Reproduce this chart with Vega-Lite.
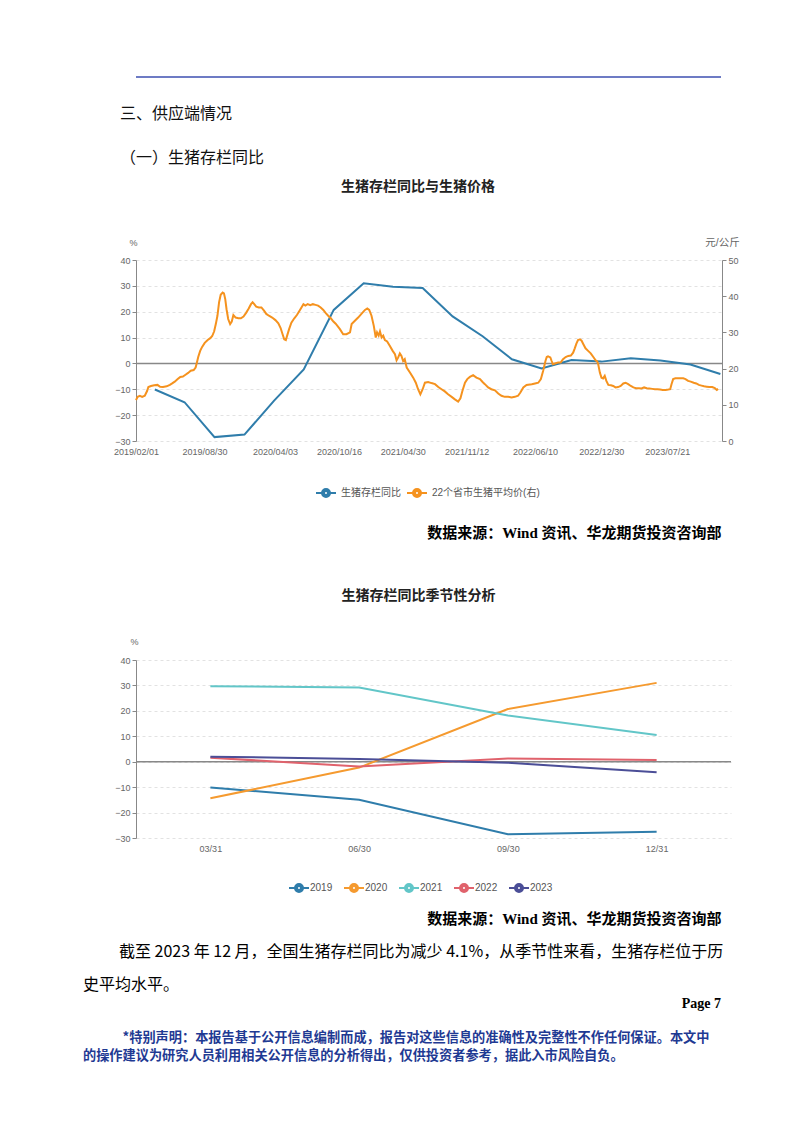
{
  "$schema": "https://vega.github.io/schema/vega-lite/v6.json",
  "background": "white",
  "padding": {"left": 83, "top": 76, "right": 0, "bottom": 0},
  "bounds": "flush",
  "spacing": 0,
  "resolve": {"scale": {"color": "independent"}, "legend": {"color": "independent"}},
  "config": {
    "view": {"stroke": null},
    "font": "Noto Sans CJK SC",
    "axis": {
      "labelFont": "Liberation Sans",
      "labelFontSize": 9,
      "labelColor": "#666666",
      "labelOverlap": false,
      "labelFlush": false,
      "domainColor": "#888888",
      "tickColor": "#888888",
      "gridColor": "#e2e2e2",
      "gridDash": [3, 3],
      "titleFont": "Liberation Sans, Noto Sans CJK SC",
      "titleFontWeight": "normal",
      "titleColor": "#666666",
      "titleFontSize": 9
    },
    "legend": {
      "labelFont": "Liberation Sans, Noto Sans CJK SC",
      "labelFontSize": 10,
      "labelColor": "#555555"
    }
  },
  "datasets": {
    "yoy": [
      {"d": "2019-03-31", "v": -10.1}, {"d": "2019-06-30", "v": -15.0}, {"d": "2019-09-30", "v": -28.5}, {"d": "2019-12-31", "v": -27.5},
      {"d": "2020-03-31", "v": -14.4}, {"d": "2020-06-30", "v": -2.3}, {"d": "2020-09-30", "v": 20.7}, {"d": "2020-12-31", "v": 31.0},
      {"d": "2021-03-31", "v": 29.7}, {"d": "2021-06-30", "v": 29.2}, {"d": "2021-09-30", "v": 18.2}, {"d": "2021-12-31", "v": 10.5},
      {"d": "2022-03-31", "v": 1.6}, {"d": "2022-06-30", "v": -1.9}, {"d": "2022-09-30", "v": 1.3}, {"d": "2022-12-31", "v": 0.7},
      {"d": "2023-03-31", "v": 2.0}, {"d": "2023-06-30", "v": 1.1}, {"d": "2023-09-30", "v": -0.4}, {"d": "2023-12-31", "v": -4.1}
    ],
    "price": [
      {"d": "2019-02-01", "p": 11.3}, {"d": "2019-02-06", "p": 12.2}, {"d": "2019-02-13", "p": 12.5}, {"d": "2019-02-20", "p": 12.2},
      {"d": "2019-02-28", "p": 12.5}, {"d": "2019-03-07", "p": 13.8}, {"d": "2019-03-11", "p": 14.9}, {"d": "2019-03-19", "p": 15.2},
      {"d": "2019-03-29", "p": 15.4}, {"d": "2019-04-08", "p": 15.5}, {"d": "2019-04-16", "p": 15.0}, {"d": "2019-04-25", "p": 14.9},
      {"d": "2019-05-06", "p": 15.1}, {"d": "2019-05-16", "p": 15.5}, {"d": "2019-05-23", "p": 15.9}, {"d": "2019-05-31", "p": 16.4},
      {"d": "2019-06-09", "p": 17.1}, {"d": "2019-06-17", "p": 17.7}, {"d": "2019-06-25", "p": 17.8}, {"d": "2019-07-03", "p": 18.3},
      {"d": "2019-07-11", "p": 18.8}, {"d": "2019-07-19", "p": 19.4}, {"d": "2019-07-28", "p": 19.6}, {"d": "2019-08-03", "p": 20.3},
      {"d": "2019-08-07", "p": 21.7}, {"d": "2019-08-11", "p": 23.2}, {"d": "2019-08-17", "p": 24.9}, {"d": "2019-08-23", "p": 26.0},
      {"d": "2019-08-31", "p": 27.1}, {"d": "2019-09-09", "p": 27.9}, {"d": "2019-09-17", "p": 28.4}, {"d": "2019-09-23", "p": 29.0},
      {"d": "2019-09-29", "p": 30.3}, {"d": "2019-10-04", "p": 32.3}, {"d": "2019-10-09", "p": 34.6}, {"d": "2019-10-14", "p": 38.3},
      {"d": "2019-10-19", "p": 40.4}, {"d": "2019-10-25", "p": 41.0}, {"d": "2019-10-29", "p": 40.8}, {"d": "2019-11-02", "p": 39.2},
      {"d": "2019-11-06", "p": 36.4}, {"d": "2019-11-11", "p": 33.7}, {"d": "2019-11-17", "p": 32.3}, {"d": "2019-11-22", "p": 33.0},
      {"d": "2019-11-27", "p": 34.8}, {"d": "2019-12-04", "p": 34.1}, {"d": "2019-12-12", "p": 33.9}, {"d": "2019-12-20", "p": 33.9},
      {"d": "2019-12-28", "p": 34.4}, {"d": "2020-01-05", "p": 35.4}, {"d": "2020-01-13", "p": 36.6}, {"d": "2020-01-20", "p": 37.8},
      {"d": "2020-01-25", "p": 38.3}, {"d": "2020-01-30", "p": 37.8}, {"d": "2020-02-05", "p": 37.1}, {"d": "2020-02-13", "p": 36.9},
      {"d": "2020-02-21", "p": 36.9}, {"d": "2020-02-29", "p": 36.0}, {"d": "2020-03-07", "p": 35.1}, {"d": "2020-03-15", "p": 34.6},
      {"d": "2020-03-25", "p": 34.1}, {"d": "2020-04-04", "p": 33.4}, {"d": "2020-04-13", "p": 32.5}, {"d": "2020-04-20", "p": 31.2},
      {"d": "2020-04-26", "p": 29.5}, {"d": "2020-05-01", "p": 28.1}, {"d": "2020-05-06", "p": 27.9}, {"d": "2020-05-10", "p": 29.1},
      {"d": "2020-05-16", "p": 30.9}, {"d": "2020-05-23", "p": 32.7}, {"d": "2020-06-01", "p": 33.9}, {"d": "2020-06-09", "p": 34.8},
      {"d": "2020-06-17", "p": 36.0}, {"d": "2020-06-23", "p": 36.9}, {"d": "2020-06-29", "p": 37.8}, {"d": "2020-07-05", "p": 37.4},
      {"d": "2020-07-12", "p": 37.8}, {"d": "2020-07-20", "p": 37.5}, {"d": "2020-07-28", "p": 37.8}, {"d": "2020-08-05", "p": 37.6},
      {"d": "2020-08-13", "p": 37.4}, {"d": "2020-08-21", "p": 36.9}, {"d": "2020-08-29", "p": 36.2}, {"d": "2020-09-05", "p": 35.4},
      {"d": "2020-09-13", "p": 34.6}, {"d": "2020-09-21", "p": 33.9}, {"d": "2020-09-29", "p": 33.0}, {"d": "2020-10-06", "p": 32.4},
      {"d": "2020-10-19", "p": 30.9}, {"d": "2020-10-29", "p": 29.5}, {"d": "2020-11-08", "p": 29.5}, {"d": "2020-11-19", "p": 30.0},
      {"d": "2020-11-24", "p": 32.3}, {"d": "2020-12-04", "p": 33.2}, {"d": "2020-12-14", "p": 34.1}, {"d": "2020-12-24", "p": 35.1},
      {"d": "2021-01-04", "p": 36.2}, {"d": "2021-01-11", "p": 36.6}, {"d": "2021-01-17", "p": 36.2}, {"d": "2021-01-24", "p": 34.6},
      {"d": "2021-01-31", "p": 31.8}, {"d": "2021-02-06", "p": 28.6}, {"d": "2021-02-10", "p": 30.0}, {"d": "2021-02-15", "p": 29.1},
      {"d": "2021-02-19", "p": 30.3}, {"d": "2021-02-24", "p": 28.6}, {"d": "2021-03-01", "p": 29.1}, {"d": "2021-03-06", "p": 27.9},
      {"d": "2021-03-13", "p": 27.5}, {"d": "2021-03-21", "p": 26.3}, {"d": "2021-03-30", "p": 24.9}, {"d": "2021-04-06", "p": 24.0},
      {"d": "2021-04-11", "p": 22.3}, {"d": "2021-04-16", "p": 23.1}, {"d": "2021-04-21", "p": 24.2}, {"d": "2021-04-26", "p": 23.5},
      {"d": "2021-05-01", "p": 22.1}, {"d": "2021-05-06", "p": 22.6}, {"d": "2021-05-12", "p": 20.3}, {"d": "2021-05-22", "p": 18.9},
      {"d": "2021-06-01", "p": 17.5}, {"d": "2021-06-09", "p": 16.1}, {"d": "2021-06-16", "p": 14.3}, {"d": "2021-06-23", "p": 12.9},
      {"d": "2021-06-30", "p": 14.3}, {"d": "2021-07-07", "p": 16.1}, {"d": "2021-07-17", "p": 16.3}, {"d": "2021-07-27", "p": 16.0},
      {"d": "2021-08-07", "p": 15.7}, {"d": "2021-08-17", "p": 14.9}, {"d": "2021-08-27", "p": 14.3}, {"d": "2021-09-06", "p": 13.7},
      {"d": "2021-09-16", "p": 12.9}, {"d": "2021-09-27", "p": 12.2}, {"d": "2021-10-07", "p": 11.5}, {"d": "2021-10-17", "p": 10.9},
      {"d": "2021-10-24", "p": 11.8}, {"d": "2021-10-30", "p": 13.8}, {"d": "2021-11-07", "p": 16.1}, {"d": "2021-11-14", "p": 17.1},
      {"d": "2021-11-22", "p": 17.7}, {"d": "2021-12-02", "p": 18.2}, {"d": "2021-12-12", "p": 17.5}, {"d": "2021-12-23", "p": 17.1},
      {"d": "2021-12-31", "p": 16.3}, {"d": "2022-01-07", "p": 15.7}, {"d": "2022-01-17", "p": 14.8}, {"d": "2022-01-27", "p": 14.3},
      {"d": "2022-02-07", "p": 14.0}, {"d": "2022-02-17", "p": 13.1}, {"d": "2022-02-27", "p": 12.5}, {"d": "2022-03-09", "p": 12.2},
      {"d": "2022-03-20", "p": 12.2}, {"d": "2022-03-30", "p": 12.0}, {"d": "2022-04-09", "p": 12.2}, {"d": "2022-04-19", "p": 12.5},
      {"d": "2022-04-26", "p": 13.4}, {"d": "2022-05-05", "p": 14.8}, {"d": "2022-05-15", "p": 15.5}, {"d": "2022-05-31", "p": 15.7},
      {"d": "2022-06-10", "p": 15.9}, {"d": "2022-06-20", "p": 16.1}, {"d": "2022-06-28", "p": 17.1}, {"d": "2022-07-05", "p": 19.4},
      {"d": "2022-07-12", "p": 22.1}, {"d": "2022-07-16", "p": 23.2}, {"d": "2022-07-20", "p": 23.4}, {"d": "2022-07-27", "p": 23.1},
      {"d": "2022-07-31", "p": 22.1}, {"d": "2022-08-04", "p": 21.2}, {"d": "2022-08-10", "p": 21.4}, {"d": "2022-08-20", "p": 21.7},
      {"d": "2022-08-28", "p": 21.7}, {"d": "2022-09-04", "p": 22.6}, {"d": "2022-09-12", "p": 23.2}, {"d": "2022-09-20", "p": 23.5},
      {"d": "2022-09-28", "p": 23.6}, {"d": "2022-10-05", "p": 24.4}, {"d": "2022-10-10", "p": 25.6}, {"d": "2022-10-15", "p": 26.9},
      {"d": "2022-10-20", "p": 27.9}, {"d": "2022-10-26", "p": 28.1}, {"d": "2022-10-31", "p": 27.7}, {"d": "2022-11-05", "p": 26.8},
      {"d": "2022-11-12", "p": 25.6}, {"d": "2022-11-20", "p": 24.9}, {"d": "2022-11-28", "p": 24.2}, {"d": "2022-12-06", "p": 23.2},
      {"d": "2022-12-13", "p": 22.3}, {"d": "2022-12-18", "p": 22.0}, {"d": "2022-12-21", "p": 21.2}, {"d": "2022-12-26", "p": 18.9},
      {"d": "2022-12-31", "p": 17.5}, {"d": "2023-01-05", "p": 17.3}, {"d": "2023-01-10", "p": 18.0}, {"d": "2023-01-15", "p": 16.6},
      {"d": "2023-01-21", "p": 15.5}, {"d": "2023-01-29", "p": 15.4}, {"d": "2023-02-05", "p": 15.2}, {"d": "2023-02-12", "p": 14.8},
      {"d": "2023-02-20", "p": 14.9}, {"d": "2023-02-28", "p": 15.2}, {"d": "2023-03-08", "p": 15.9}, {"d": "2023-03-15", "p": 16.1},
      {"d": "2023-03-23", "p": 15.7}, {"d": "2023-03-31", "p": 15.2}, {"d": "2023-04-08", "p": 14.8}, {"d": "2023-04-16", "p": 14.6},
      {"d": "2023-04-25", "p": 14.6}, {"d": "2023-05-03", "p": 14.5}, {"d": "2023-05-11", "p": 14.8}, {"d": "2023-05-19", "p": 14.6},
      {"d": "2023-05-27", "p": 14.5}, {"d": "2023-06-05", "p": 14.4}, {"d": "2023-06-13", "p": 14.3}, {"d": "2023-06-21", "p": 14.3},
      {"d": "2023-06-29", "p": 14.2}, {"d": "2023-07-07", "p": 14.1}, {"d": "2023-07-16", "p": 14.1}, {"d": "2023-07-24", "p": 14.2},
      {"d": "2023-07-30", "p": 14.3}, {"d": "2023-08-03", "p": 15.7}, {"d": "2023-08-08", "p": 17.1}, {"d": "2023-08-15", "p": 17.3},
      {"d": "2023-08-23", "p": 17.3}, {"d": "2023-09-01", "p": 17.3}, {"d": "2023-09-08", "p": 17.3}, {"d": "2023-09-15", "p": 17.1},
      {"d": "2023-09-23", "p": 16.6}, {"d": "2023-10-01", "p": 16.4}, {"d": "2023-10-10", "p": 16.1}, {"d": "2023-10-18", "p": 15.9},
      {"d": "2023-10-26", "p": 15.5}, {"d": "2023-11-03", "p": 15.3}, {"d": "2023-11-11", "p": 15.1}, {"d": "2023-11-19", "p": 15.0},
      {"d": "2023-11-27", "p": 14.9}, {"d": "2023-12-06", "p": 14.9}, {"d": "2023-12-14", "p": 14.6}, {"d": "2023-12-20", "p": 14.1},
      {"d": "2023-12-24", "p": 14.4}
    ],
    "season": [
      {"year": "2019", "q": "03/31", "v": -10.1}, {"year": "2019", "q": "06/30", "v": -15.0}, {"year": "2019", "q": "09/30", "v": -28.5}, {"year": "2019", "q": "12/31", "v": -27.5},
      {"year": "2020", "q": "03/31", "v": -14.4}, {"year": "2020", "q": "06/30", "v": -2.3}, {"year": "2020", "q": "09/30", "v": 20.7}, {"year": "2020", "q": "12/31", "v": 31.0},
      {"year": "2021", "q": "03/31", "v": 29.7}, {"year": "2021", "q": "06/30", "v": 29.2}, {"year": "2021", "q": "09/30", "v": 18.2}, {"year": "2021", "q": "12/31", "v": 10.5},
      {"year": "2022", "q": "03/31", "v": 1.6}, {"year": "2022", "q": "06/30", "v": -1.9}, {"year": "2022", "q": "09/30", "v": 1.3}, {"year": "2022", "q": "12/31", "v": 0.7},
      {"year": "2023", "q": "03/31", "v": 2.0}, {"year": "2023", "q": "06/30", "v": 1.1}, {"year": "2023", "q": "09/30", "v": -0.4}, {"year": "2023", "q": "12/31", "v": -4.1}
    ]
  },
  "vconcat": [
    {
      "width": 585,
      "height": 183,
      "data": {"values": [{}]},
      "mark": {"type": "rule", "color": "#3d4fb0", "strokeWidth": 1.5, "x2Offset": -53},
      "encoding": {"y": {"value": 0}},
      "title": {
        "text": ["三、供应端情况", "（一）生猪存栏同比"],
        "orient": "top",
        "anchor": "start",
        "frame": "group",
        "dx": -16,
        "offset": -90,
        "font": "Noto Sans CJK SC",
        "fontSize": 16,
        "fontWeight": "normal",
        "color": "#111111",
        "lineHeight": 44
      }
    },
    {
      "width": 586,
      "height": 181,
      "title": {
        "text": "生猪存栏同比与生猪价格",
        "orient": "top",
        "anchor": "middle",
        "frame": "group",
        "dx": -11,
        "offset": 43,
        "font": "Noto Sans CJK SC",
        "fontSize": 14,
        "fontWeight": "bold",
        "color": "#222222"
      },
      "layer": [
        {
          "layer": [
            {
              "data": {"values": [{}]},
              "mark": {"type": "rule", "color": "#888888", "strokeWidth": 1.5},
              "encoding": {"y": {"datum": 0, "type": "quantitative"}}
            },
            {
              "data": {"name": "yoy"},
              "mark": {"type": "line", "strokeWidth": 2},
              "encoding": {
                "x": {
                  "field": "d",
                  "type": "temporal",
                  "scale": {"domain": [{"year": 2019, "month": 2, "date": 1}, {"year": 2024, "month": 1, "date": 5}], "nice": false},
                  "axis": {
                    "values": [
                      {"year": 2019, "month": 2, "date": 1}, {"year": 2019, "month": 8, "date": 30},
                      {"year": 2020, "month": 4, "date": 3}, {"year": 2020, "month": 10, "date": 16},
                      {"year": 2021, "month": 4, "date": 30}, {"year": 2021, "month": 11, "date": 12},
                      {"year": 2022, "month": 6, "date": 10}, {"year": 2022, "month": 12, "date": 30},
                      {"year": 2023, "month": 7, "date": 21}
                    ],
                    "tickCount": 20,
                    "format": "%Y/%m/%d",
                    "labelAngle": 0,
                    "domain": false,
                    "ticks": false,
                    "grid": false,
                    "labelPadding": 6,
                    "title": "数据来源：Wind 资讯、华龙期货投资咨询部",
                    "titleX": 585,
                    "titleY": 91,
                    "titleAlign": "right",
                    "titleAnchor": "end",
                    "titleBaseline": "middle",
                    "titleFont": "Liberation Serif, Noto Sans CJK SC",
                    "titleFontSize": 15,
                    "titleFontWeight": "bold",
                    "titleColor": "#000000"
                  }
                },
                "y": {
                  "field": "v",
                  "type": "quantitative",
                  "scale": {"domain": [-30, 40], "nice": false, "zero": false},
                  "axis": {
                    "values": [-30, -20, -10, 0, 10, 20, 30, 40],
                    "tickCount": 20,
                    "grid": true,
                    "tickSize": 4,
                    "labelPadding": 2,
                    "title": "%",
                    "titleAngle": 0,
                    "titleX": -3,
                    "titleY": -18,
                    "titleAlign": "center",
                    "titleBaseline": "middle"
                  }
                },
                "color": {
                  "datum": "生猪存栏同比",
                  "scale": {"domain": ["生猪存栏同比", "22个省市生猪平均价(右)"], "range": ["#2f7dab", "#f5921e"]},
                  "legend": {
                    "orient": "none",
                    "legendX": 184,
                    "legendY": 227,
                    "direction": "horizontal",
                    "title": null,
                    "symbolType": "M-2,0H-0.8M0.8,0H2M-0.8,0A0.8,0.8,0,1,0,0.8,0A0.8,0.8,0,1,0,-0.8,0M-0.4,0A0.4,0.4,0,1,0,0.4,0A0.4,0.4,0,1,0,-0.4,0",
                    "symbolSize": 100,
                    "symbolStrokeWidth": 2,
                    "labelOffset": 9,
                    "columnPadding": 2,
                    "padding": 0
                  }
                }
              }
            }
          ]
        },
        {
          "data": {"name": "price"},
          "mark": {"type": "line", "strokeWidth": 2},
          "encoding": {
            "x": {"field": "d", "type": "temporal"},
            "y": {
              "field": "p",
              "type": "quantitative",
              "scale": {"domain": [0, 50], "nice": false},
              "axis": {
                "orient": "right",
                "values": [0, 10, 20, 30, 40, 50],
                "tickCount": 20,
                "grid": false,
                "tickSize": 4,
                "labelPadding": 2,
                "title": "元/公斤",
                "titleFontSize": 10.5,
                "titleAngle": 0,
                "titleX": 0,
                "titleY": -18,
                "titleAlign": "center",
                "titleBaseline": "middle"
              }
            },
            "color": {"datum": "22个省市生猪平均价(右)"}
          }
        }
      ],
      "resolve": {"scale": {"y": "independent"}}
    },
    {
      "width": 585,
      "height": 219,
      "data": {"values": []},
      "mark": "point"
    },
    {
      "width": 595,
      "height": 178,
      "title": {
        "text": "生猪存栏同比季节性分析",
        "orient": "top",
        "anchor": "middle",
        "frame": "group",
        "dx": -15,
        "offset": 34,
        "font": "Noto Sans CJK SC",
        "fontSize": 14,
        "fontWeight": "bold",
        "color": "#222222"
      },
      "layer": [
        {
          "data": {"values": [{}]},
          "mark": {"type": "rule", "color": "#888888", "strokeWidth": 1.5},
          "encoding": {"y": {"datum": 0, "type": "quantitative"}}
        },
        {
          "data": {"name": "season"},
          "mark": {"type": "line", "strokeWidth": 2},
          "encoding": {
            "x": {
              "field": "q",
              "type": "ordinal",
              "sort": ["03/31", "06/30", "09/30", "12/31"],
              "scale": {"type": "point", "padding": 0.5},
              "axis": {
                "labelAngle": 0,
                "domain": false,
                "ticks": false,
                "grid": false,
                "labelPadding": 6,
                "title": "数据来源：Wind 资讯、华龙期货投资咨询部",
                "titleX": 585,
                "titleY": 80,
                "titleAlign": "right",
                "titleAnchor": "end",
                "titleBaseline": "middle",
                "titleFont": "Liberation Serif, Noto Sans CJK SC",
                "titleFontSize": 15,
                "titleFontWeight": "bold",
                "titleColor": "#000000"
              }
            },
            "y": {
              "field": "v",
              "type": "quantitative",
              "scale": {"domain": [-30, 40], "nice": false, "zero": false},
              "axis": {
                "values": [-30, -20, -10, 0, 10, 20, 30, 40],
                "tickCount": 20,
                "grid": true,
                "tickSize": 4,
                "labelPadding": 2,
                "title": "%",
                "titleAngle": 0,
                "titleX": -2,
                "titleY": -19,
                "titleAlign": "center",
                "titleBaseline": "middle"
              }
            },
            "color": {
              "field": "year",
              "type": "nominal",
              "scale": {"domain": ["2019", "2020", "2021", "2022", "2023"], "range": ["#2f7dab", "#f59a2f", "#62c6c8", "#e0626c", "#4b4e97"]},
              "legend": {
                "orient": "none",
                "legendX": 157,
                "legendY": 222,
                "direction": "horizontal",
                "title": null,
                "symbolType": "M-2,0H-0.8M0.8,0H2M-0.8,0A0.8,0.8,0,1,0,0.8,0A0.8,0.8,0,1,0,-0.8,0M-0.4,0A0.4,0.4,0,1,0,0.4,0A0.4,0.4,0,1,0,-0.4,0",
                "symbolSize": 100,
                "symbolStrokeWidth": 2,
                "labelOffset": 5,
                "columnPadding": 7,
                "padding": 0
              }
            }
          }
        }
      ]
    },
    {
      "width": 585,
      "height": 20,
      "data": {"values": []},
      "mark": "point",
      "title": {
        "text": ["\u200b\u3000\u3000\u2005截至 2023 年 12 月，全国生猪存栏同比为减少 4.1%，从季节性来看，生猪存栏位于历", "史平均水平。"],
        "orient": "bottom",
        "anchor": "start",
        "frame": "group",
        "dx": -53,
        "offset": 86,
        "font": "Noto Sans CJK SC",
        "fontSize": 16,
        "fontWeight": "normal",
        "color": "#000000",
        "lineHeight": 33
      }
    },
    {
      "width": 585,
      "height": 20,
      "data": {"values": []},
      "mark": "point",
      "title": {
        "text": "Page 7",
        "orient": "bottom",
        "anchor": "end",
        "frame": "group",
        "offset": 119,
        "font": "Liberation Serif",
        "fontSize": 14,
        "fontWeight": "bold",
        "color": "#000000"
      }
    },
    {
      "width": 585,
      "height": 20,
      "data": {"values": []},
      "mark": "point",
      "title": {
        "text": ["\u200b\u3000\u3000\u3000*特别声明：本报告基于公开信息编制而成，报告对这些信息的准确性及完整性不作任何保证。本文中", "的操作建议为研究人员利用相关公开信息的分析得出，仅供投资者参考，据此入市风险自负。"],
        "orient": "bottom",
        "anchor": "start",
        "frame": "group",
        "dx": -53,
        "offset": 134,
        "font": "Noto Sans CJK SC",
        "fontSize": 13.2,
        "fontWeight": "bold",
        "color": "#1f3a93",
        "lineHeight": 18
      }
    }
  ]
}
